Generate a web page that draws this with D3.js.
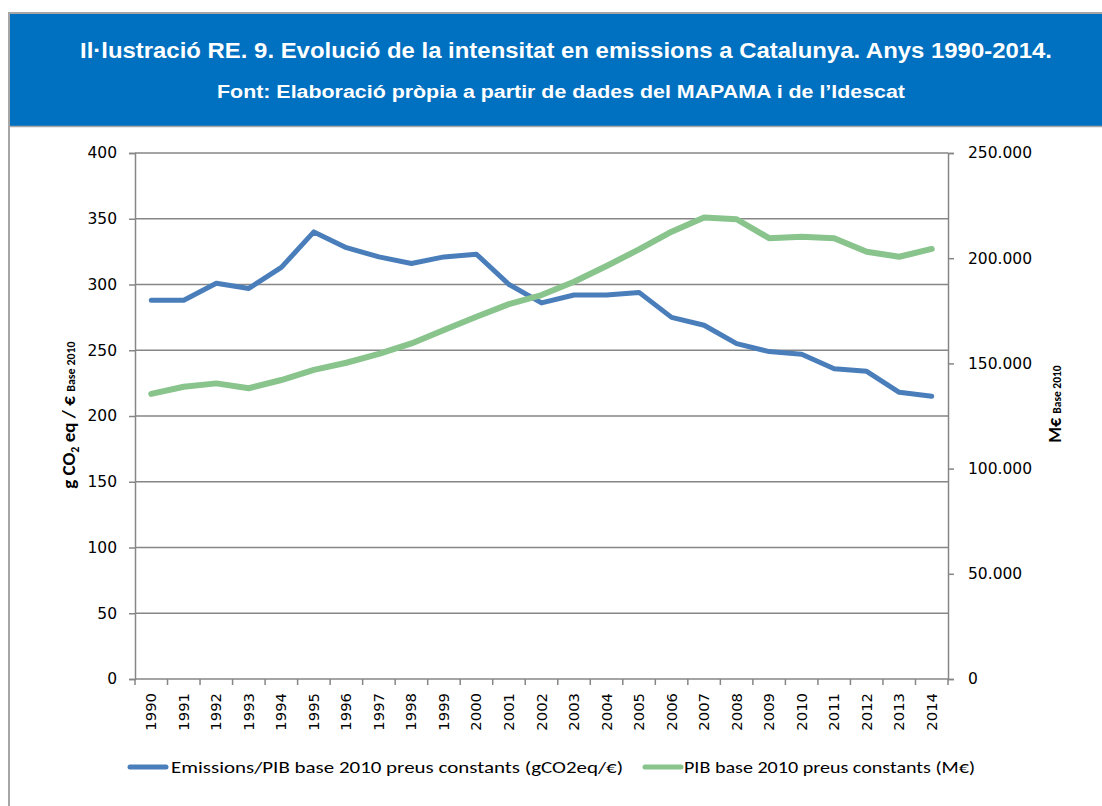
<!DOCTYPE html>
<html>
<head>
  <meta charset="utf-8">
  <script src="https://d3js.org/d3.v7.min.js"></script>
  <style>
    body { margin: 0; background: #fff; }
    svg text { font-family: "DejaVu Sans", Verdana, sans-serif; }
  </style>
</head>
<body>
<script type="text/javascript">
  // chart data
  var years = ["1990","1991","1992","1993","1994","1995","1996","1997","1998","1999","2000","2001","2002",
               "2003","2004","2005","2006","2007","2008","2009","2010","2011","2012","2013","2014"];
  // g CO2 eq per euro (left axis)
  var intensity = [288, 288, 301, 297, 313, 340, 328, 321, 316, 321, 323, 300, 286,
                   292, 292, 294, 275, 269, 255, 249, 247, 236, 234, 218, 215];
  // PIB in M€ base 2010 (right axis)
  var pib = [135500, 138900, 140500, 138200, 142100, 146900, 150300, 154500, 159500, 165900, 172200, 178200, 182500,
             188800, 196300, 204200, 212600, 219400, 218500, 209500, 210200, 209500, 203100, 200700, 204400];
  var leftTicks = [0, 50, 100, 150, 200, 250, 300, 350, 400];
  var rightTicks = [0, 50000, 100000, 150000, 200000, 250000];
  var seriesNames = ["Emissions/PIB base 2010 preus constants (gCO2eq/\u20ac)", "PIB base 2010 preus constants (M\u20ac)"];
  var colors = ["#4a7ebb", "#88c48c"];

  "use strict";
  var W = 1102, H = 806;
  var plot = {left: 135, right: 948, top: 153, bottom: 679};

  var svg = d3.select("body").append("svg")
      .attr("width", W)
      .attr("height", H);

  // outer frame + blue title banner
  svg.append("rect")
      .attr("x", 9).attr("y", 13)
      .attr("width", W).attr("height", H)
      .attr("fill", "#fff")
      .attr("stroke", "#a6a6a6")
      .attr("stroke-width", 2);
  svg.append("rect")
      .attr("x", 10).attr("y", 14)
      .attr("width", W).attr("height", 112)
      .attr("fill", "#0070c0");
  svg.append("line")
      .attr("x1", 10).attr("x2", W)
      .attr("y1", 126.5).attr("y2", 126.5)
      .attr("stroke", "#a6a6a6").attr("stroke-width", 1.5);

  svg.append("text")
      .attr("x", 80).attr("y", 58)
      .attr("textLength", 972)
      .attr("lengthAdjust", "spacingAndGlyphs")
      .attr("fill", "#fff")
      .style("font-family", "'Liberation Sans', Arial, sans-serif")
      .style("font-weight", "bold")
      .style("font-size", "22px")
      .text("Il\u00b7lustraci\u00f3 RE. 9. Evoluci\u00f3 de la intensitat en emissions a Catalunya. Anys 1990-2014.");
  svg.append("text")
      .attr("x", 217).attr("y", 98)
      .attr("textLength", 688)
      .attr("lengthAdjust", "spacingAndGlyphs")
      .attr("fill", "#fff")
      .style("font-family", "'Liberation Sans', Arial, sans-serif")
      .style("font-weight", "bold")
      .style("font-size", "18px")
      .text("Font: Elaboraci\u00f3 pr\u00f2pia a partir de dades del MAPAMA i de l\u2019Idescat");

  // scales
  var x = d3.scaleBand().domain(years).range([plot.left, plot.right]);
  var yL = d3.scaleLinear().domain([0, 400]).range([plot.bottom, plot.top]);
  var yR = d3.scaleLinear().domain([0, 250000]).range([plot.bottom, plot.top]);

  // horizontal gridlines
  svg.append("g").selectAll("line")
      .data(leftTicks.slice(1))
      .join("line")
      .attr("x1", plot.left).attr("x2", plot.right)
      .attr("y1", function (d) { return yL(d); })
      .attr("y2", function (d) { return yL(d); })
      .attr("stroke", "#868686")
      .attr("stroke-width", 1.5);

  var fmtDot = function (d) { return d3.format(",")(d).replace(/,/g, "."); };

  // left axis
  var gL = svg.append("g")
      .attr("transform", "translate(" + plot.left + ",0)")
      .call(d3.axisLeft(yL).tickValues(leftTicks).tickSize(6).tickPadding(12));
  // right axis
  var gR = svg.append("g")
      .attr("transform", "translate(" + plot.right + ",0)")
      .call(d3.axisRight(yR).tickValues(rightTicks).tickFormat(fmtDot).tickSize(6).tickPadding(14));
  [gL, gR].forEach(function (g) {
    g.select(".domain").attr("stroke", "#868686").attr("stroke-width", 1.5);
    g.selectAll(".tick line").attr("stroke", "#868686").attr("stroke-width", 1.5);
    g.selectAll(".tick text")
      .attr("fill", "#000")
      .style("font-family", "'DejaVu Sans', Verdana, sans-serif")
      .style("font-size", "15.5px");
  });

  // bottom axis: ticks between categories, rotated year labels
  var gX = svg.append("g")
      .attr("transform", "translate(0," + plot.bottom + ")");
  gX.append("line")
      .attr("x1", plot.left).attr("x2", plot.right)
      .attr("stroke", "#868686").attr("stroke-width", 1.5);
  gX.selectAll("line.tk")
      .data(years.concat(["end"]))
      .join("line")
      .attr("class", "tk")
      .attr("x1", function (d, i) { return plot.left + i * x.step(); })
      .attr("x2", function (d, i) { return plot.left + i * x.step(); })
      .attr("y1", 0).attr("y2", 6)
      .attr("stroke", "#868686").attr("stroke-width", 1.5);
  gX.selectAll("text")
      .data(years)
      .join("text")
      .attr("transform", function (d) {
        return "translate(" + (x(d) + x.bandwidth() / 2 + 5) + ",14) rotate(-90)";
      })
      .attr("text-anchor", "end")
      .style("font-size", "14.8px")
      .text(function (d) { return d; });

  // axis titles
  var tl = svg.append("text")
      .attr("transform", "translate(75,415) rotate(-90)")
      .attr("text-anchor", "middle")
      .style("font-family", "Carlito, 'Liberation Sans', Arial, sans-serif")
      .style("font-weight", "bold")
      .style("font-size", "19px");
  tl.append("tspan").text("g CO");
  tl.append("tspan").attr("dy", 4).style("font-size", "12px").text("2");
  tl.append("tspan").attr("dy", -4).text(" eq / \u20ac ");
  tl.append("tspan").style("font-size", "12px").text("Base 2010");

  var tr = svg.append("text")
      .attr("transform", "translate(1061,404) rotate(-90)")
      .attr("text-anchor", "middle")
      .style("font-family", "Carlito, 'Liberation Sans', Arial, sans-serif")
      .style("font-weight", "bold")
      .style("font-size", "18px");
  tr.append("tspan").text("M\u20ac ");
  tr.append("tspan").style("font-size", "11.5px").text("Base  2010");

  // lines
  var cx = function (i) { return x(years[i]) + x.bandwidth() / 2; };
  var lineL = d3.line().x(function (d, i) { return cx(i); }).y(function (d) { return yL(d); });
  var lineR = d3.line().x(function (d, i) { return cx(i); }).y(function (d) { return yR(d); });

  svg.append("path")
      .datum(intensity)
      .attr("d", lineL)
      .attr("fill", "none")
      .attr("stroke", colors[0])
      .attr("stroke-width", 5)
      .attr("stroke-linecap", "round")
      .attr("stroke-linejoin", "round");
  svg.append("path")
      .datum(pib)
      .attr("d", lineR)
      .attr("fill", "none")
      .attr("stroke", colors[1])
      .attr("stroke-width", 6)
      .attr("stroke-linecap", "round")
      .attr("stroke-linejoin", "round");

  // legend
  var legendPos = [{x: 130, tx: 171, len: 452}, {x: 645, tx: 684, len: 291}];
  var lg = svg.append("g").selectAll("g")
      .data(seriesNames)
      .join("g");
  lg.append("line")
      .attr("x1", function (d, i) { return legendPos[i].x; })
      .attr("x2", function (d, i) { return legendPos[i].x + 36; })
      .attr("y1", 767).attr("y2", 767)
      .attr("stroke", function (d, i) { return colors[i]; })
      .attr("stroke-width", 5)
      .attr("stroke-linecap", "round");
  lg.append("text")
      .attr("x", function (d, i) { return legendPos[i].tx; })
      .attr("y", 773)
      .attr("textLength", function (d, i) { return legendPos[i].len; })
      .attr("lengthAdjust", "spacingAndGlyphs")
      .style("font-family", "Carlito, 'Open Sans', sans-serif")
      .style("font-size", "17px")
      .text(function (d) { return d; });
</script>
</body>
</html>
